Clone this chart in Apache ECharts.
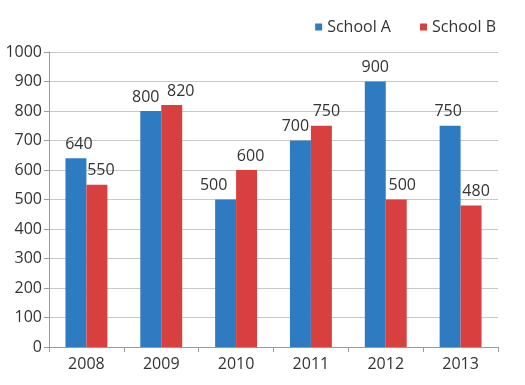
<!DOCTYPE html>
<html><head><meta charset="utf-8">
<script src="https://cdn.jsdelivr.net/npm/echarts@6/dist/echarts.min.js"></script>
<style>html,body{margin:0;padding:0;background:#fff}#c{width:525px;height:385px}</style>
</head><body><div id="c"></div>
<script>
const categories = ['2008','2009','2010','2011','2012','2013'];
const schoolA = [640, 800, 500, 700, 900, 750];
const schoolB = [550, 820, 600, 750, 500, 480];
const yTicks = [0,100,200,300,400,500,600,700,800,900,1000];

// label horizontal nudges (style only)
const labelShiftA = [3, -5, -12, -5, 0, -2];
const labelShiftB = [4, 9, 4, 5, 6, 5];

const chart = echarts.init(document.getElementById('c'));
const font = '"Open Sans", sans-serif';
const mk = (vals, shifts) => vals.map((v, i) => ({value: v, label: {offset: [shifts[i], 0]}}));
chart.setOption({
  animation: false,
  textStyle: {fontFamily: font},
  legend: {
    top: 14, right: 24, itemWidth: 7, itemHeight: 7, itemGap: 29,
    icon: 'rect',
    textStyle: {fontFamily: font, fontSize: 16, color: '#333'},
    data: ['School A','School B']
  },
  grid: {left: 49, right: 27, top: 52, bottom: 38},
  xAxis: {
    type: 'category', data: categories,
    axisLine: {lineStyle: {color: '#9a9a9a'}},
    axisTick: {show: true, alignWithLabel: false, length: 5, lineStyle: {color: '#9a9a9a'}},
    axisLabel: {fontFamily: font, fontSize: 16, color: '#333', margin: 9}
  },
  yAxis: {
    type: 'value', min: yTicks[0], max: yTicks[yTicks.length-1], interval: 100,
    axisLine: {show: true, lineStyle: {color: '#9a9a9a'}},
    axisTick: {show: true, inside: false, length: 5, lineStyle: {color: '#9a9a9a'}},
    axisLabel: {fontFamily: font, fontSize: 16, color: '#333', margin: 7, formatter: v => String(v)},
    splitLine: {lineStyle: {color: '#c8c8c8'}}
  },
  series: [
    {name: 'School A', type: 'bar', data: mk(schoolA, labelShiftA), barGap: '0%', barCategoryGap: '44%',
     itemStyle: {color: '#2f7bc2'},
     label: {show: true, position: 'top', distance: 6, fontFamily: font, fontSize: 16, color: '#333'}},
    {name: 'School B', type: 'bar', data: mk(schoolB, labelShiftB), barGap: '0%', barCategoryGap: '44%',
     itemStyle: {color: '#d8403f'},
     label: {show: true, position: 'top', distance: 6, fontFamily: font, fontSize: 16, color: '#333'}}
  ]
});
</script></body></html>
